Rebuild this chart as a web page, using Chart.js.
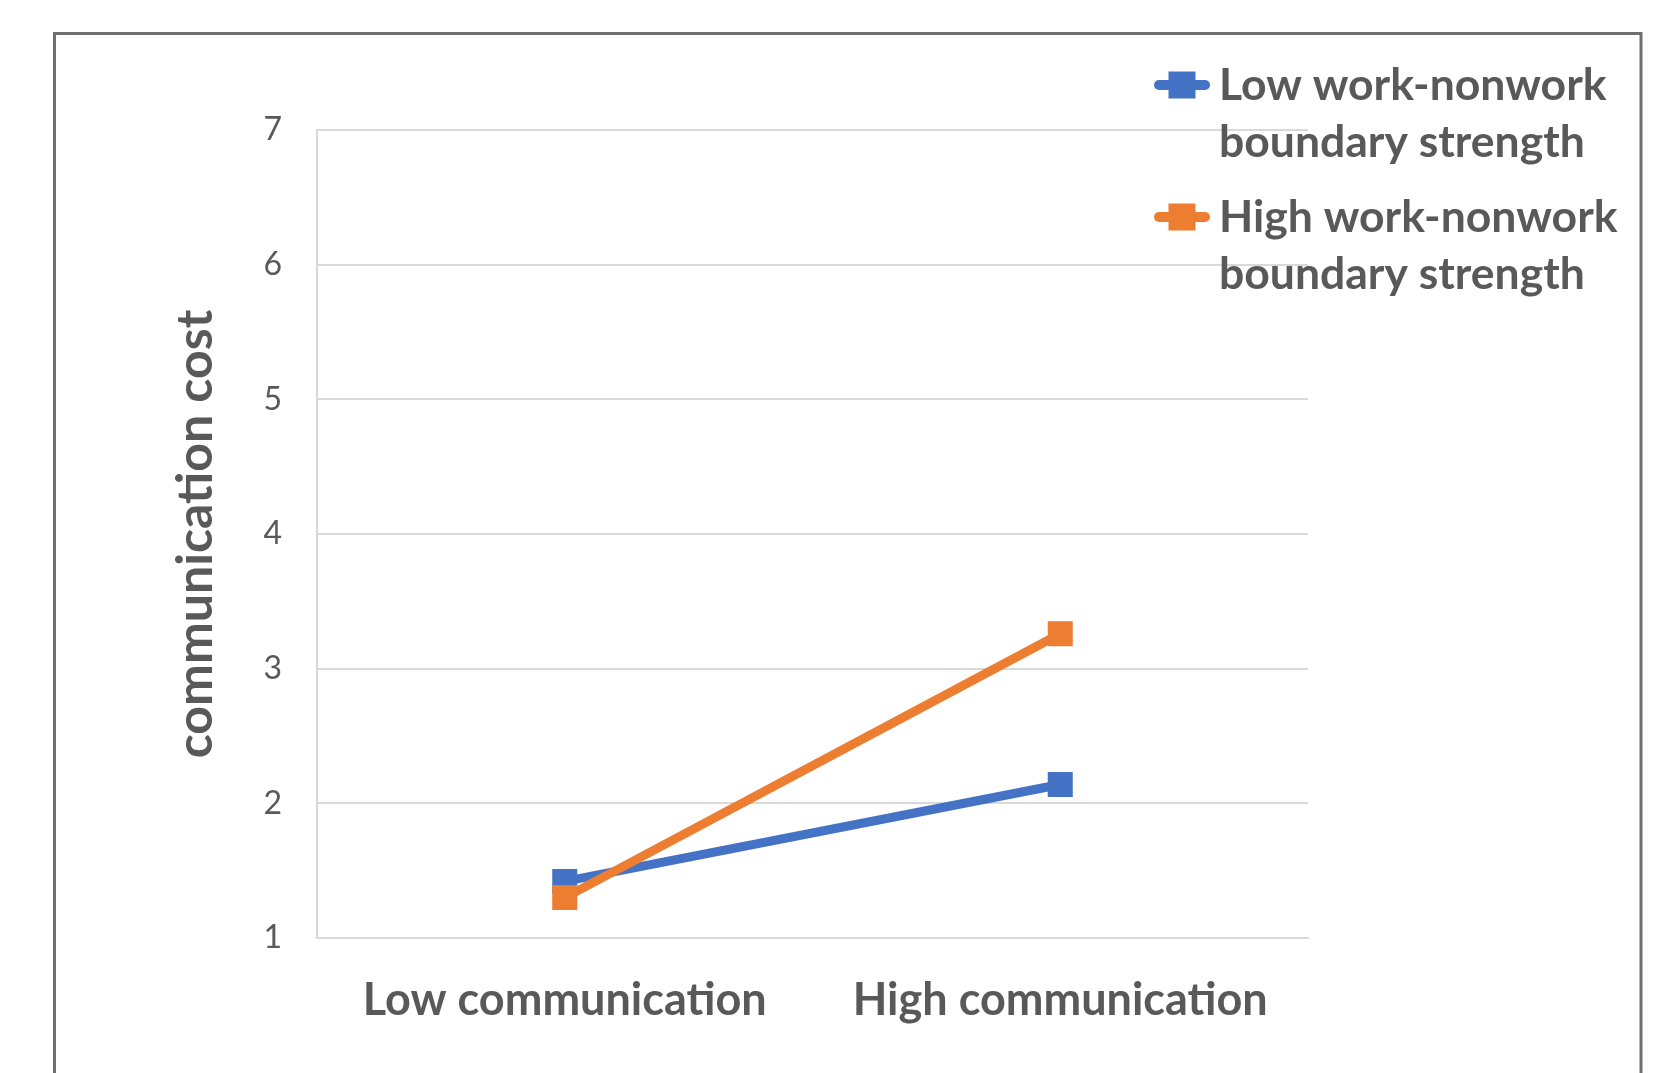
<!DOCTYPE html>
<html>
<head>
<meta charset="utf-8">
<script src="https://cdn.jsdelivr.net/npm/chart.js@4.4.1/dist/chart.umd.min.js"></script>
<style>
  html, body { margin: 0; padding: 0; background: #ffffff; }
  #wrap { width: 1654px; height: 1073px; position: relative; }
</style>
</head>
<body>
<div id="wrap"><canvas id="chart" width="1654" height="1073"></canvas></div>
<script>
// Interaction plot: communication cost by communication level and boundary strength
const categories = ['Low communication', 'High communication'];
const lowBoundaryCost = [1.42, 2.14];
const highBoundaryCost = [1.30, 3.26];
const seriesLabels = [
  ['Low work-nonwork', 'boundary strength'],
  ['High work-nonwork', 'boundary strength']
];
const yAxisTitle = 'communication cost';
const yMin = 1;
const yMax = 7;
const yStep = 1;

const BLUE = '#4472C4';
const ORANGE = '#ED7D31';
const TEXT = '#595959';
const GRID = '#d9d9d9';

// Outer frame around the chart
const framePlugin = {
  id: 'frame',
  beforeDraw(chart) {
    const ctx = chart.ctx;
    ctx.save();
    ctx.fillStyle = '#ffffff';
    ctx.fillRect(0, 0, chart.width, chart.height);
    ctx.strokeStyle = '#6f6f6f';
    ctx.lineWidth = 3;
    ctx.strokeRect(54.5, 33.5, 1586.5, 1100);
    ctx.restore();
  }
};

// Legend at the top right, with two-line entries
const sideLegendPlugin = {
  id: 'sideLegend',
  afterDraw(chart, args, opts) {
    const ctx = chart.ctx;
    ctx.save();
    ctx.font = 'bold ' + opts.fontSize + 'px Lato';
    ctx.textBaseline = 'alphabetic';
    ctx.textAlign = 'left';
    chart.data.datasets.forEach((ds, i) => {
      const base = opts.firstBaseline + i * opts.itemGap;
      const cy = base - opts.capMid;
      // line swatch
      ctx.strokeStyle = ds.borderColor;
      ctx.lineWidth = opts.lineWidth;
      ctx.lineCap = 'round';
      ctx.beginPath();
      ctx.moveTo(opts.symbolLeft, cy);
      ctx.lineTo(opts.symbolRight, cy);
      ctx.stroke();
      // marker swatch
      const mx = (opts.symbolLeft + opts.symbolRight) / 2;
      ctx.fillStyle = ds.backgroundColor;
      ctx.fillRect(mx - opts.marker / 2, cy - opts.marker / 2, opts.marker, opts.marker);
      // text
      ctx.fillStyle = opts.color;
      const lines = Array.isArray(ds.label) ? ds.label : [ds.label];
      lines.forEach((t, j) => ctx.fillText(t, opts.textX, base + j * opts.lineGap));
    });
    ctx.restore();
  }
};

const ctx = document.getElementById('chart').getContext('2d');
new Chart(ctx, {
  type: 'line',
  data: {
    labels: categories,
    datasets: [
      {
        label: seriesLabels[0],
        data: lowBoundaryCost,
        borderColor: BLUE,
        backgroundColor: BLUE,
        borderWidth: 9,
        pointStyle: 'rect',
        pointRadius: 17.7,
        pointBorderWidth: 0,
        pointBackgroundColor: BLUE,
        order: 2,
        tension: 0
      },
      {
        label: seriesLabels[1],
        data: highBoundaryCost,
        borderColor: ORANGE,
        backgroundColor: ORANGE,
        borderWidth: 9,
        pointStyle: 'rect',
        pointRadius: 17.7,
        pointBorderWidth: 0,
        pointBackgroundColor: ORANGE,
        order: 1,
        tension: 0
      }
    ]
  },
  options: {
    responsive: false,
    animation: false,
    devicePixelRatio: 1,
    layout: { padding: { left: 60, right: 346, top: 130, bottom: 0 } },
    plugins: {
      legend: { display: false },
      tooltip: { enabled: false },
      sideLegend: {
        fontSize: 44.5,
        color: TEXT,
        firstBaseline: 100,
        lineGap: 57,
        itemGap: 132,
        capMid: 15,
        symbolLeft: 1159,
        symbolRight: 1205,
        lineWidth: 10,
        marker: 27,
        textX: 1219
      }
    },
    scales: {
      x: {
        type: 'category',
        offset: true,
        grid: { display: false, drawTicks: false },
        border: { display: true, color: GRID, width: 2 },
        ticks: {
          color: TEXT,
          font: { family: 'Lato', size: 45, weight: 'bold' },
          padding: 35,
          maxRotation: 0,
          autoSkip: false
        },
        afterFit(scale) { scale.height = 135; }
      },
      y: {
        min: yMin,
        max: yMax,
        grid: { color: GRID, lineWidth: 2, drawTicks: false },
        border: { display: true, color: GRID, width: 2 },
        ticks: {
          stepSize: yStep,
          color: TEXT,
          font: { family: 'Lato', size: 32 },
          padding: 35
        },
        title: {
          display: true,
          text: yAxisTitle,
          color: TEXT,
          font: { family: 'Lato', size: 50, weight: 'bold' },
          padding: { top: 106, bottom: 0 }
        },
        afterFit(scale) { scale.width = 257; }
      }
    }
  },
  plugins: [framePlugin, sideLegendPlugin]
});
</script>
</body>
</html>
